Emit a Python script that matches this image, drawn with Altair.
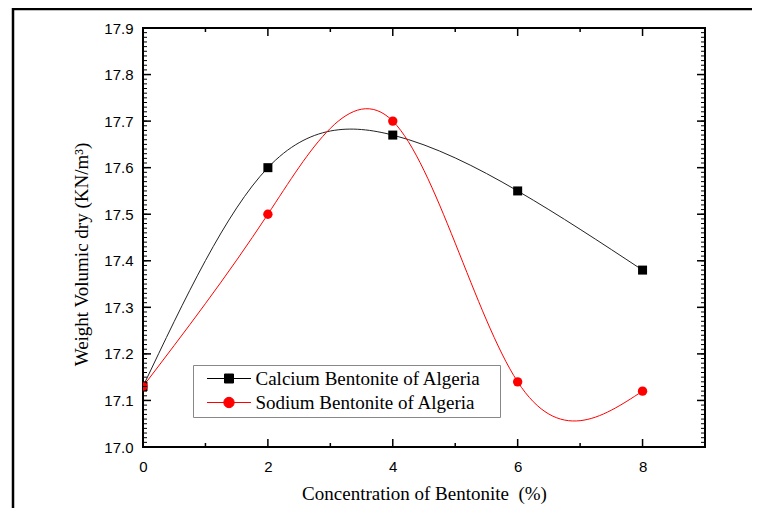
import altair as alt
import pandas as pd

# ---- data ----
concentration = [0, 2, 4, 6, 8]
calcium = [17.13, 17.60, 17.67, 17.55, 17.38]
sodium = [17.13, 17.50, 17.70, 17.14, 17.12]
series_names = ["Calcium Bentonite of Algeria", "Sodium Bentonite of Algeria"]

x_label_values = [0, 2, 4, 6, 8]
x_minor_values = [1, 3, 5, 7]
y_label_values = [17.0, 17.1, 17.2, 17.3, 17.4, 17.5, 17.6, 17.7, 17.8, 17.9]
y_minor_values = [round(17.0 + 0.01 * i, 2) for i in range(91)]

x_title = "Concentration of Bentonite\u00a0 (%)"
y_title = "Weight Volumic dry (KN/m\u00b3)"

df = pd.DataFrame({
    "x": concentration + concentration,
    "y": calcium + sodium,
    "series": [series_names[0]] * len(concentration) + [series_names[1]] * len(concentration),
})
df_ca = df[df.series == series_names[0]]
df_na = df[df.series == series_names[1]]
frame_df = pd.DataFrame({"k": [0]})

W, H = 562, 419
xs = alt.Scale(domain=[0, 9], nice=False, zero=False)
ys = alt.Scale(domain=[17.0, 17.9], nice=False, zero=False)

SANS = "Liberation Sans"
SERIF = "Liberation Serif"

ax_x_labels = alt.Axis(orient="bottom", values=x_label_values, format="d", ticks=False,
                       tickSize=0, domain=False, grid=False, labelFont=SANS,
                       labelFontSize=15, labelColor="black", labelPadding=12,
                       labelFlush=False,
                       title=x_title, titleFont=SERIF, titleFontSize=19,
                       titleFontWeight="normal", titleColor="black", titleX=281,
                       titleY=52, titleBaseline="alphabetic", titleAlign="center")
ax_y_labels = alt.Axis(orient="left", values=y_label_values, format=".1f", ticks=False,
                       tickSize=0, domain=False, grid=False, labelFont=SANS,
                       labelFontSize=15, labelColor="black", labelPadding=10,
                       labelFlush=False,
                       title=y_title, titleFont=SERIF, titleFontSize=19,
                       titleFontWeight="normal", titleColor="black", titleX=-56,
                       titleY=226, titleAngle=270, titleBaseline="alphabetic",
                       titleAlign="center")


def xy(ax=alt.Undefined, ay=alt.Undefined):
    return dict(
        x=alt.X("x:Q", scale=xs, axis=ax),
        y=alt.Y("y:Q", scale=ys, axis=ay),
    )


def x_ticks(values, at, length, width):
    d = pd.DataFrame({"x": values})
    y2 = at - length if at > 0 else at + length
    return alt.Chart(d).mark_rule(color="black", strokeWidth=width).encode(
        x=alt.X("x:Q", scale=xs), y=alt.value(at), y2=alt.value(y2))


def y_ticks(values, at, length, width):
    d = pd.DataFrame({"y": values})
    x2 = at - length if at > 0 else at + length
    return alt.Chart(d).mark_rule(color="black", strokeWidth=width).encode(
        y=alt.Y("y:Q", scale=ys), x=alt.value(at), x2=alt.value(x2))


ticks = [
    x_ticks(x_label_values, H, 8, 1.5), x_ticks(x_minor_values, H, 4, 1.5),
    x_ticks(x_label_values, 0, 8, 1.5), x_ticks(x_minor_values, 0, 4, 1.5),
    y_ticks(y_minor_values, 0, 4, 1), y_ticks(y_label_values, 0, 8, 1.5),
    y_ticks(y_minor_values, W, 4, 1), y_ticks(y_label_values, W, 8, 1.5),
]

line_ca = alt.Chart(df_ca).mark_line(interpolate="natural", color="#222222",
                                     strokeWidth=1, clip=True).encode(
    **xy(ax_x_labels, ax_y_labels))
line_na = alt.Chart(df_na).mark_line(interpolate="natural", color="#ff0000",
                                     strokeWidth=1, clip=True).encode(**xy())
pts_ca = alt.Chart(df_ca).mark_point(shape="square", filled=True, size=81, opacity=1,
                                     color="black", clip=True).encode(**xy())
pts_na = alt.Chart(df_na).mark_point(shape="circle", filled=True, size=88, opacity=1,
                                     color="#ff0000", clip=True).encode(**xy())

# legend glyphs: line segment + marker; the trailing move-to only widens the legend box
calcium_path = "M-4.4,0H4.4M-0.9,-0.9H0.9V0.9H-0.9ZM53,0"
sodium_path = "M-4.4,0H4.4M-1.04,0A1.04,1.04,0,1,1,1.04,0A1.04,1.04,0,1,1,-1.04,0ZM53,0"

legend = alt.Legend(orient="none", legendX=50, legendY=337, title=None,
                    labelFont=SERIF, labelFontSize=19, labelColor="black",
                    symbolSize=100, symbolStrokeWidth=1, symbolOffset=22.5,
                    labelOffset=17, padding=4, rowPadding=4, strokeColor="#888888",
                    fillColor="white", cornerRadius=0, labelLimit=500)

legend_layer = alt.Chart(df).mark_point(filled=True, opacity=1, size=100, clip=True).encode(
    x=alt.value(-3000),
    y=alt.value(-3000),
    color=alt.Color("series:N", scale=alt.Scale(domain=series_names, range=["black", "#ff0000"]),
                    legend=legend),
    stroke=alt.Stroke("series:N", scale=alt.Scale(domain=series_names, range=["black", "#ff0000"]),
                      legend=legend),
    shape=alt.Shape("series:N", scale=alt.Scale(domain=series_names, range=[calcium_path, sodium_path]),
                    legend=legend),
)

frame = alt.Chart(frame_df).mark_rect(fill=None, stroke="black", strokeWidth=2.5, clip=False).encode(
    x=alt.value(-130), x2=alt.value(700), y=alt.value(-19), y2=alt.value(600))

chart = alt.layer(line_ca, frame, line_na, pts_ca, pts_na, *ticks, legend_layer).properties(
    width=W, height=H,
    autosize=alt.AutoSizeParams(type="none"),
    padding={"left": 135, "top": 20, "right": 47, "bottom": 61},
    background="white",
).configure_view(stroke="black", strokeWidth=2)

chart.save("out.html", embed_options={"renderer": "svg", "actions": False})
